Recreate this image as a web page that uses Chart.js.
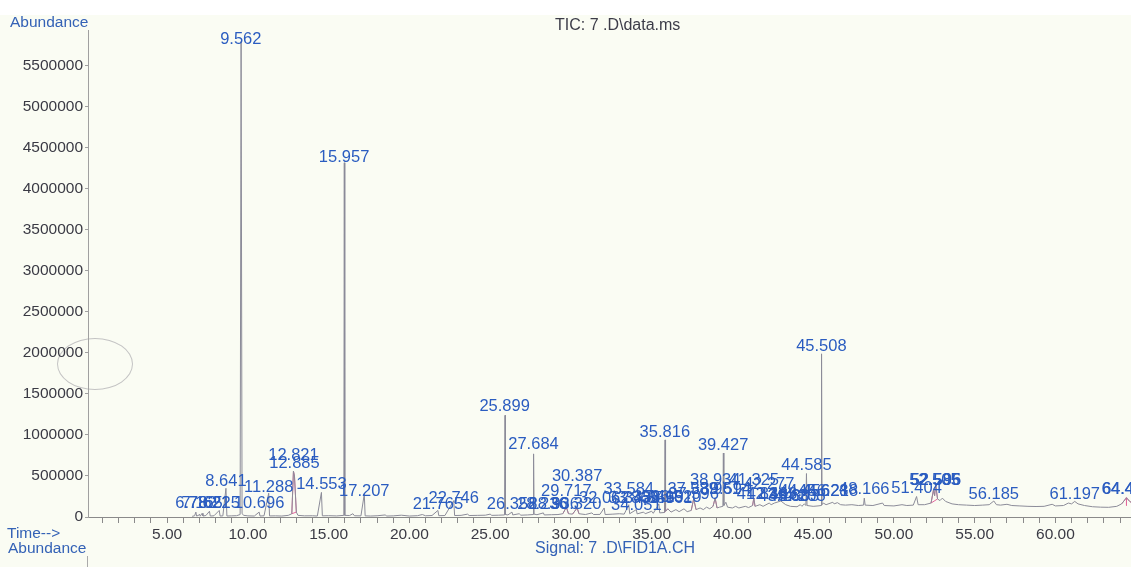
<!DOCTYPE html>
<html>
<head>
<meta charset="utf-8">
<script src="https://cdn.jsdelivr.net/npm/chart.js@4.4.1/dist/chart.umd.min.js"></script>
<style>
  html, body { margin: 0; padding: 0; }
  body {
    width: 1131px; height: 567px; overflow: hidden; position: relative;
    background: #fafcf3;
    font-family: "Liberation Sans", Arial, sans-serif;
  }
  #topStrip { position: absolute; left: 0; top: 0; width: 1131px; height: 15px; background: #ffffff; }
  #wrap { position: absolute; left: 0; top: 0; width: 1131px; height: 567px; }
  .txt { position: absolute; font-size: 15.5px; line-height: 16px; white-space: nowrap; }
  .blue { color: #3462b6; }
  .dark { color: #3c3c48; }
  #blob {
    position: absolute; left: 57px; top: 338px; width: 74px; height: 50px;
    border: 1px solid #c4c4c4; border-radius: 50%;
  }
  #nextAxis { position: absolute; left: 87px; top: 556px; width: 1px; height: 11px; background: #aaa; }
</style>
</head>
<body>
<div id="topStrip"></div>
<div id="blob"></div>
<div id="wrap"><canvas id="chart"></canvas></div>
<div class="txt blue" style="left:10px; top:14px;">Abundance</div>
<div class="txt dark" style="left:555px; top:17px; font-size:16px;">TIC: 7 .D\data.ms</div>
<div class="txt blue" style="left:7px; top:525px;">Time--&gt;</div>
<div class="txt blue" style="left:8px; top:540px;">Abundance</div>
<div class="txt blue" style="left:535px; top:540px; font-size:16px;">Signal: 7 .D\FID1A.CH</div>
<div id="nextAxis"></div>

<script>
// === data (time in min, abundance) ===
const trace = [
  [6.55, 8000], [6.70, 15000], [6.78, 60000], [6.82, 12000], [6.95, 20000], [7.00, 35000],
  [7.05, 10000], [7.165, 45000], [7.22, 12000], [7.40, 18000], [7.621, 70000], [7.67, 12000],
  [7.90, 15000], [8.225, 80000], [8.28, 12000], [8.45, 14000], [8.641, 350000], [8.70, 12000],
  [9.00, 14000], [9.30, 16000], [9.52, 30000], [9.58, 5800000], [9.64, 40000], [9.75, 20000],
  [10.0, 14000], [10.4, 12000], [10.696, 60000], [10.75, 12000], [11.0, 15000], [11.288, 290000],
  [11.34, 13000], [11.7, 14000], [12.1, 12000], [12.5, 20000], [12.72, 40000], [12.821, 560000],
  [12.885, 500000], [13.0, 60000], [13.1, 20000], [13.5, 14000], [14.0, 15000], [14.3, 12000],
  [14.553, 300000], [14.61, 14000], [15.0, 16000], [15.5, 13000], [15.94, 20000], [15.97, 4320000],
  [16.00, 20000], [16.3, 18000], [16.5, 40000], [16.6, 15000], [17.0, 14000], [17.207, 280000],
  [17.26, 14000], [17.6, 12000], [18.0, 15000], [18.5, 25000], [18.6, 12000], [19.0, 14000],
  [19.5, 22000], [20.0, 12000], [20.5, 16000], [20.8, 30000], [21.0, 15000], [21.4, 18000],
  [21.765, 80000], [21.82, 16000], [22.2, 18000], [22.746, 200000], [22.80, 18000], [23.2, 20000],
  [23.6, 35000], [23.7, 18000], [24.2, 20000], [24.7, 22000], [25.0, 35000], [25.1, 20000],
  [25.5, 22000], [25.89, 25000], [25.92, 1240000], [25.95, 30000], [26.1, 25000], [26.352, 60000],
  [26.40, 25000], [26.8, 40000], [26.9, 22000], [27.3, 25000], [27.66, 30000], [27.69, 770000],
  [27.72, 35000], [27.9, 28000], [28.296, 50000], [28.35, 25000], [28.8, 28000], [29.2, 30000],
  [29.5, 40000], [29.717, 120000], [29.85, 40000], [30.1, 35000], [30.387, 110000], [30.5, 40000],
  [30.9, 30000], [31.3, 50000], [31.4, 30000], [31.8, 32000], [32.06, 110000], [32.12, 30000],
  [32.6, 35000], [33.0, 40000], [33.3, 35000], [33.584, 150000], [33.64, 40000], [34.051, 90000],
  [34.1, 38000], [34.5, 60000], [34.6, 40000], [35.0, 70000], [35.1, 45000], [35.45, 160000],
  [35.5, 50000], [35.80, 55000], [35.83, 940000], [35.86, 70000], [36.0, 100000], [36.2, 60000],
  [36.5, 90000], [36.7, 65000], [37.0, 100000], [37.2, 65000], [37.45, 80000], [37.6, 220000],
  [37.75, 90000], [38.0, 110000], [38.2, 90000], [38.4, 120000], [38.6, 100000], [38.8, 130000],
  [38.931, 230000], [39.05, 110000], [39.2, 120000], [39.41, 130000], [39.44, 780000], [39.47, 140000],
  [39.594, 180000], [39.7, 120000], [40.0, 110000], [40.2, 130000], [40.4, 110000], [40.8, 130000],
  [41.0, 115000], [41.25, 140000], [41.325, 230000], [41.4, 130000], [41.7, 150000], [41.9, 130000],
  [42.277, 170000], [42.4, 150000], [42.6, 170000], [43.0, 195000], [43.3, 150000], [43.6, 130000],
  [44.0, 125000], [44.205, 150000], [44.3, 130000], [44.456, 160000], [44.55, 140000], [44.585, 530000],
  [44.62, 140000], [45.0, 130000], [45.3, 135000], [45.49, 140000], [45.52, 1990000], [45.55, 150000],
  [45.628, 170000], [45.8, 150000], [46.218, 180000], [46.3, 160000], [46.5, 175000], [46.7, 150000],
  [47.0, 145000], [47.4, 150000], [47.8, 140000], [48.12, 145000], [48.166, 230000], [48.22, 145000],
  [48.7, 140000], [49.3, 170000], [49.4, 140000], [50.0, 135000], [50.5, 150000], [50.8, 140000],
  [51.2, 145000], [51.404, 250000], [51.5, 150000], [51.9, 150000], [52.3, 170000], [52.45, 330000],
  [52.52, 260000], [52.585, 400000], [52.7, 220000], [52.85, 200000], [53.0, 230000], [53.2, 190000],
  [53.6, 160000], [54.0, 150000], [54.5, 145000], [55.0, 140000], [55.5, 145000], [55.9, 150000],
  [56.185, 195000], [56.35, 150000], [56.6, 145000], [57.0, 155000], [57.3, 140000], [57.8, 135000],
  [58.3, 130000], [58.8, 128000], [59.3, 130000], [59.8, 155000], [60.0, 135000], [60.5, 140000],
  [60.8, 170000], [61.0, 160000], [61.197, 190000], [61.4, 160000], [61.8, 140000], [62.3, 125000],
  [62.8, 120000], [63.3, 118000], [63.8, 130000], [64.1, 160000], [64.4, 235000], [64.6, 190000],
  [64.75, 170000]
];

// integrated peaks (pink); [t, null] breaks the line
const integrated = [
  [12.72, 40000], [12.821, 560000], [12.885, 500000], [13.0, 60000], [12.72, 40000], [12.821, null],
  [29.5, 40000], [29.717, 120000], [29.85, 40000], [29.9, null],
  [30.1, 35000], [30.387, 110000], [30.5, 40000], [30.6, null],
  [35.80, 55000], [35.83, 300000], [35.86, 70000], [36.0, 100000], [36.2, 60000], [36.3, null],
  [37.45, 80000], [37.6, 220000], [37.75, 90000], [37.8, null],
  [38.8, 130000], [38.931, 230000], [39.05, 110000], [39.1, null],
  [41.25, 140000], [41.325, 230000], [41.4, 130000], [41.5, null],
  [52.3, 170000], [52.45, 330000], [52.52, 260000], [52.585, 400000], [52.7, 220000], [52.3, 170000], [52.4, null],
  [64.1, 160000], [64.4, 235000], [64.6, 190000], [64.75, 170000], [64.7, null],
  [64.4, 235000], [64.4, 140000]
];

// peak labels: text, retention time, height of the label centre
const labelText = [
  "9.562", "15.957", "45.508", "25.899", "27.684", "35.816", "39.427", "44.585",
  "12.821", "12.885", "8.641", "11.288", "14.553", "17.207", "10.696",
  "6.782", "7.165", "7.621", "8.225", "21.765", "22.746",
  "26.358", "28.236", "28.936", "30.320", "29.717", "30.387",
  "32.062", "33.584", "33.869", "34.051", "34.856", "35.419", "35.961", "36.520",
  "37.539", "37.596", "38.934", "38.961", "39.594", "41.325", "42.277",
  "41.836", "42.443", "43.163", "43.803", "44.205", "44.456", "45.628", "46.218", "48.166",
  "51.404", "52.505", "52.585", "52.596", "56.185", "61.197", "64.420", "64.455"
];
const labelTimes = [
  9.562, 15.957, 45.508, 25.899, 27.684, 35.816, 39.427, 44.585,
  12.821, 12.885, 8.641, 11.288, 14.553, 17.207, 10.696,
  6.782, 7.165, 7.621, 8.225, 21.765, 22.746,
  26.358, 28.236, 28.936, 30.320, 29.717, 30.387,
  32.062, 33.584, 33.869, 34.051, 34.856, 35.419, 35.961, 36.520,
  37.539, 37.596, 38.934, 38.961, 39.594, 41.325, 42.277,
  41.836, 42.443, 43.163, 43.803, 44.205, 44.456, 45.628, 46.218, 48.166,
  51.404, 52.505, 52.585, 52.596, 56.185, 61.197, 64.420, 64.455
];
const labelLevels = [
  5820000, 4390000, 2085000, 1354000, 890000, 1037000, 878000, 634000,
  756000, 658000, 439000, 366000, 402000, 317000, 171000,
  171000, 171000, 171000, 171000, 159000, 232000,
  159000, 159000, 159000, 159000, 317000, 500000,
  232000, 341000, 232000, 146000, 232000, 244000, 232000, 244000,
  330000, 270000, 451000, 341000, 330000, 451000, 400000,
  280000, 280000, 250000, 250000, 250000, 317000, 317000, 317000, 330000,
  354000, 451000, 451000, 451000, 280000, 280000, 341000, 341000
];

// axis ticks
const yTickValues = [0, 500000, 1000000, 1500000, 2000000, 2500000, 3000000,
  3500000, 4000000, 4500000, 5000000, 5500000];
const xTickValues = [];
for (let m = 1; m <= 64; m++) xTickValues.push(m);

const toXY = (arr) => arr.map(([x, y]) => ({ x: x, y: y }));

// peak labels drawn through the chart's own scales
const peakLabelPlugin = {
  id: "peakLabels",
  afterDatasetsDraw(chart) {
    const { ctx, scales } = chart;
    ctx.save();
    ctx.font = '16.5px "Liberation Sans", Arial, sans-serif';
    ctx.fillStyle = "#2a5cc0";
    ctx.textAlign = "center";
    ctx.textBaseline = "middle";
    for (let i = 0; i < labelText.length; i++) {
      const px = scales.x.getPixelForValue(labelTimes[i]);
      const py = scales.y.getPixelForValue(labelLevels[i]);
      ctx.fillText(labelText[i], px, py);
    }
    ctx.restore();
  }
};

new Chart(document.getElementById("chart"), {
  type: "line",
  data: {
    datasets: [
      {
        data: toXY(trace),
        borderColor: "#8b8b98",
        borderWidth: 1,
        pointRadius: 0,
        tension: 0,
      },
      {
        data: toXY(integrated),
        borderColor: "#e3679d",
        borderWidth: 1,
        pointRadius: 0,
        tension: 0,
        spanGaps: false,
      },
    ],
  },
  options: {
    responsive: true,
    maintainAspectRatio: false,
    animation: false,
    layout: { padding: { top: 30, left: 0, right: 0, bottom: 0 } },
    plugins: { legend: { display: false }, tooltip: { enabled: false } },
    scales: {
      x: {
        type: "linear",
        min: 0.1,
        max: 64.68,
        afterBuildTicks: (axis) => { axis.ticks = xTickValues.map(v => ({ value: v })); },
        afterFit: (axis) => { axis.height = 50; },
        ticks: {
          autoSkip: false,
          maxRotation: 0,
          color: "#3a3a44",
          font: { family: '"Liberation Sans", Arial, sans-serif', size: 15.5 },
          padding: 2,
          callback: (v) => (v % 5 === 0 ? v.toFixed(2) : ""),
        },
        grid: { drawOnChartArea: false, drawTicks: true, tickLength: 6, color: "#8a8a8a" },
        border: { display: true, color: "#8a8a8a" },
      },
      y: {
        min: 0,
        max: 5939000,
        afterBuildTicks: (axis) => { axis.ticks = yTickValues.map(v => ({ value: v })); },
        afterFit: (axis) => { axis.width = 88; },
        ticks: {
          color: "#3a3a44",
          font: { family: '"Liberation Sans", Arial, sans-serif', size: 15.5 },
          padding: 2,
          callback: (v) => String(v),
        },
        grid: { drawOnChartArea: false, drawTicks: true, tickLength: 3, color: "#a0a0a0" },
        border: { display: true, color: "#a0a0a0" },
      },
    },
  },
  plugins: [peakLabelPlugin],
});
</script>
</body>
</html>
